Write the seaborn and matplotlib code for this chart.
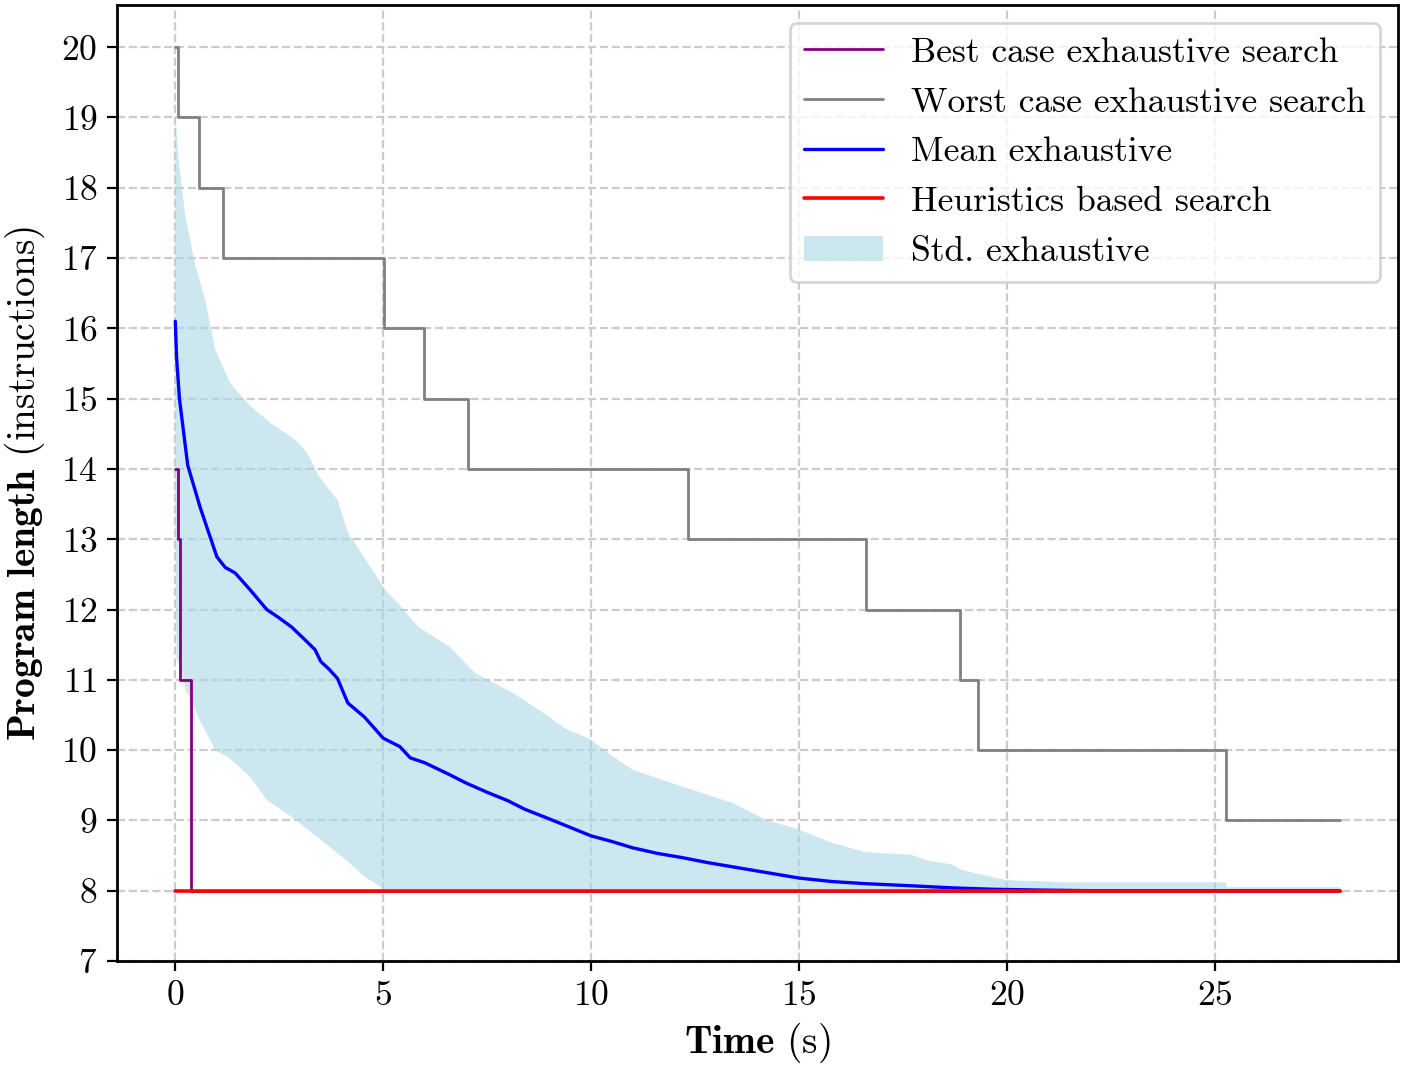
import matplotlib

matplotlib.use("Agg")
import matplotlib.pyplot as plt
import numpy as np
import seaborn as sns

# worst case exhaustive search (step function)
worst_t = [0, 0.06, 0.57, 1.14, 5.02, 5.97, 7.03, 12.33, 16.6, 18.88, 19.31, 25.28, 28.0]
worst_v = [20, 19, 18, 17, 16, 15, 14, 13, 12, 11, 10, 9, 9]

# best case exhaustive search (step function)
best_t = [0, 0.06, 0.11, 0.37, 28.0]
best_v = [14, 13, 11, 8, 8]

# heuristics based search
heur_t = [0, 28.0]
heur_v = [8, 8]

# mean exhaustive
mean_t = [0, 0.03, 0.1, 0.3, 0.6, 1.0, 1.2, 1.44, 1.8, 2.0, 2.2, 2.5, 2.8, 3.1, 3.36,
          3.5, 3.7, 3.9, 4.15, 4.55, 5.0, 5.4, 5.65, 6.0, 6.6, 7.0, 7.5, 8.0, 8.4, 9.0,
          9.5, 10.0, 10.5, 11.0, 11.6, 12.2, 12.8, 13.4, 14.2, 15.0, 15.8, 16.6, 17.7,
          18.7, 19.7, 20.7, 22.0, 28.0]
mean_v = [16.1, 15.6, 15.0, 14.05, 13.45, 12.75, 12.6, 12.52, 12.28, 12.14, 12.0, 11.88,
          11.75, 11.58, 11.43, 11.26, 11.15, 11.02, 10.67, 10.47, 10.17, 10.05, 9.89, 9.82,
          9.65, 9.53, 9.4, 9.28, 9.16, 9.02, 8.9, 8.78, 8.7, 8.61, 8.53, 8.47, 8.4, 8.34,
          8.26, 8.18, 8.13, 8.1, 8.07, 8.04, 8.02, 8.01, 8.0, 8.0]

# std band: upper and lower edges
upper_t = [0, 0.1, 0.24, 0.48, 0.72, 0.96, 1.34, 1.8, 2.3, 2.8, 3.0, 3.2, 3.45, 3.9,
           4.15, 4.7, 5.05, 5.4, 5.85, 6.6, 7.2, 8.1, 8.8, 9.4, 10.0, 10.5, 11.0, 12.2,
           13.4, 14.2, 15.0, 15.8, 16.6, 17.7, 18.1, 18.7, 18.9, 19.3, 19.75, 20.0, 21.4,
           25.25, 25.3, 28.0]
upper_v = [19.0, 18.3, 17.6, 16.9, 16.4, 15.7, 15.2, 14.9, 14.65, 14.45, 14.35, 14.2,
           13.9, 13.56, 13.1, 12.6, 12.28, 12.06, 11.75, 11.47, 11.1, 10.82, 10.55, 10.3,
           10.15, 9.92, 9.72, 9.48, 9.25, 9.01, 8.87, 8.68, 8.55, 8.51, 8.43, 8.37, 8.3,
           8.24, 8.18, 8.15, 8.12, 8.12, 8.05, 8.05]
lower_t = [0, 0.03, 0.15, 0.25, 0.38, 0.55, 0.96, 1.27, 1.8, 2.2, 2.8, 3.4, 4.1, 4.55,
           4.95, 5.1, 28.0]
lower_v = [13.0, 11.3, 11.15, 10.85, 10.71, 10.47, 10.0, 9.9, 9.62, 9.29, 9.05, 8.77,
           8.44, 8.2, 8.05, 8.0, 8.0]

x_ticks = [0, 5, 10, 15, 20, 25]
y_ticks = list(range(7, 21))

sns.set_style("ticks", {
    "axes.grid": True,
    "grid.linestyle": "--",
    "grid.color": "#cccccc",
    "axes.edgecolor": "black",
    "xtick.color": "black",
    "ytick.color": "black",
    "text.color": "black",
    "axes.labelcolor": "black",
})
plt.rcParams["font.family"] = ["cmr10", "DejaVu Serif"]
plt.rcParams["mathtext.fontset"] = "cm"
plt.rcParams["axes.formatter.use_mathtext"] = True
plt.rcParams["font.size"] = 12.8
plt.rcParams["grid.linewidth"] = 0.8
plt.rcParams["axes.linewidth"] = 1.0

fig, ax = plt.subplots(figsize=(7.01, 5.33), dpi=200)
fig.subplots_adjust(left=0.0835, right=0.997, top=0.9953, bottom=0.0985)

band = ax.fill(
    np.concatenate([upper_t, lower_t[::-1]]),
    np.concatenate([upper_v, lower_v[::-1]]),
    color="lightblue", alpha=0.6, lw=0, label="Std. exhaustive",
)[0]
sns.lineplot(x=best_t, y=best_v, ax=ax, color="purple", lw=1.0,
             drawstyle="steps-post", label="Best case exhaustive search")
sns.lineplot(x=worst_t, y=worst_v, ax=ax, color="gray", lw=1.0,
             drawstyle="steps-post", label="Worst case exhaustive search")
sns.lineplot(x=mean_t, y=mean_v, ax=ax, color="blue", lw=1.2,
             label="Mean exhaustive")
sns.lineplot(x=heur_t, y=heur_v, ax=ax, color="red", lw=1.3,
             label="Heuristics based search")

ax.set_xlim(-1.4, 29.4)
ax.set_ylim(7, 20.6)
ax.set_xticks(x_ticks)
ax.set_yticks(y_ticks)
ax.tick_params(labelsize=12.8)
ax.set_xlabel(r"$\mathbf{Time}$ (s)", fontsize=14.2, labelpad=3)
ax.set_ylabel(r"$\mathbf{Program\ length}$ (instructions)", fontsize=14.2, labelpad=5)

lines = ax.get_lines()
handles = list(lines[:4]) + [band]
labels = [h.get_label() for h in handles]
ax.legend(handles, labels, loc="upper right", fontsize=12.8, edgecolor="#cccccc",
          fancybox=True, handlelength=2.2)

fig.savefig("out.png", dpi=200)
